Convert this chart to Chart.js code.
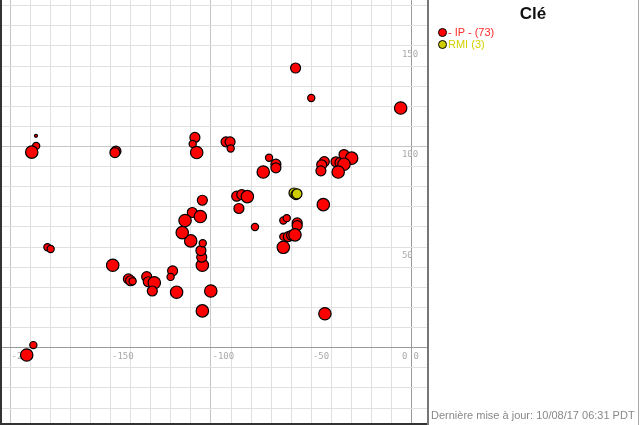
<!DOCTYPE html>
<html>
<head>
<meta charset="utf-8">
<script src="https://cdn.jsdelivr.net/npm/chart.js@4.4.0/dist/chart.umd.min.js"></script>
<style>
  html, body { margin: 0; padding: 0; background: #fff; overflow: hidden; }
  #wrap { position: relative; width: 640px; height: 425px; }
  #panel {
    position: absolute; left: 427px; top: 0; width: 212px; height: 425px;
    box-sizing: border-box; border-left: 2px solid #777; border-right: 1px solid #aaa;
    font-family: "Liberation Sans", Arial, sans-serif;
  }
  #title { position: absolute; left: 0; width: 208px; top: 4px; text-align: center; font-weight: bold; font-size: 17px; color: #111; }
  .item { position: absolute; left: 9px; font-size: 11px; line-height: 13px; white-space: nowrap; }
  .dot { display: inline-block; width: 7px; height: 7px; border-radius: 50%; border: 1px solid #000; vertical-align: -1px; margin-right: 1px; }
  #updated { position: absolute; left: 2px; top: 409px; font-size: 11px; line-height: 13px; color: #888; white-space: nowrap; }
</style>
</head>
<body>
<div id="wrap">
  <canvas id="chart" width="640" height="425"></canvas>
  <div id="panel">
    <div id="title">Clé</div>
    <div id="legend"></div>
    <div id="updated">Dernière mise à jour: 10/08/17 06:31 PDT</div>
  </div>
</div>
<script>
// series values
const ipX = [-187.1, -187.0, -189.2, -147.3, -147.8, -181.4, -179.8, -148.9, -188.4, -191.7,
  -141.1, -140.0, -139.0, -132.0, -131.2, -128.2, -129.2, -119.1, -120.1, -117.1,
  -104.3, -104.6, -105.0, -104.1, -110.1, -100.1, -104.3, -109.3, -105.3, -112.9,
  -114.3, -104.3, -108.0, -109.1, -107.1, -92.5, -90.5, -90.2, -71.1, -67.7,
  -67.7, -74.0, -87.2, -84.7, -81.9, -86.1, -78.1, -64.0, -62.3, -57.1,
  -57.1, -64.0, -61.5, -59.9, -58.2, -64.0, -43.6, -44.9, -45.3, -37.8,
  -35.8, -33.8, -30.0, -33.8, -36.7, -44.1, -43.3, -57.9, -50.1, -5.6];
const ipY = [105.3, 100.3, 97.2, 97.7, 97.0, 49.9, 49.1, 41.0, 1.3, -3.6,
  34.2, 33.3, 33.0, 35.3, 32.8, 32.3, 28.2, 38.2, 35.2, 27.6,
  41.0, 45.0, 48.3, 51.9, 53.1, 28.2, 18.3, 67.2, 65.2, 63.2,
  57.2, 73.3, 104.5, 101.3, 97.0, 102.3, 102.3, 99.0, 94.4, 91.2,
  89.4, 87.3, 75.3, 76.1, 75.1, 69.2, 60.0, 63.2, 64.4, 62.0,
  60.7, 55.2, 55.2, 55.9, 56.1, 49.9, 92.5, 90.9, 87.9, 92.4,
  92.0, 96.0, 94.2, 91.2, 87.3, 71.1, 16.9, 139.0, 124.1, 119.1];
// size class of each point (1 = tiny ... 4 = large)
const ipSize = [1, 2, 4, 3, 3, 2, 2, 4, 2, 4,
  3, 3, 2, 3, 3, 4, 3, 3, 2, 4,
  4, 3, 3, 2, 4, 4, 4, 3, 4, 4,
  4, 3, 3, 2, 4, 3, 3, 2, 2, 3,
  3, 4, 3, 3, 4, 3, 2, 2, 2, 3,
  3, 2, 3, 3, 4, 4, 3, 3, 3, 3,
  3, 3, 4, 4, 4, 4, 4, 3, 2, 4];
const rmiX = [-58.7, -57.7, -57.2];
const rmiY = [76.9, 76.1, 76.5];
const rmiSize = [3, 3, 3];

const seriesNames = ["- IP -", "RMI"];
const seriesCounts = [73, 3];
const xTickLabels = [-200, -150, -100, -50, 0];
const yTickLabels = [0, 50, 100, 150];

const radiusFor = { 1: 1.5, 2: 3.6, 3: 5, 4: 6.2 };
const colors = ["#ff0000", "#cfcc00"];
const textColors = ["#ff2b2b", "#d2d200"];

const toPoints = (xs, ys, ss) => xs.map((x, i) => ({ x: x, y: ys[i], s: ss[i] }));

// legend panel
const legend = document.getElementById("legend");
seriesNames.forEach((name, i) => {
  const el = document.createElement("div");
  el.className = "item";
  el.style.top = (26 + i * 12) + "px";
  el.style.color = textColors[i];
  el.innerHTML = '<span class="dot" style="background:' + colors[i] + '"></span>' +
    name + " (" + seriesCounts[i] + ")";
  legend.appendChild(el);
});

// axis labels drawn at the zero lines, frame around plot
const axisLabels = {
  id: "axisLabels",
  beforeDatasetsDraw(chart) {
    const { ctx, scales } = chart;
    const x0 = scales.x.getPixelForValue(0);
    const y0 = scales.y.getPixelForValue(0);
    ctx.save();
    ctx.font = "9px 'DejaVu Sans Mono', monospace";
    ctx.fillStyle = "#aaa";
    ctx.textAlign = "left";
    ctx.textBaseline = "top";
    xTickLabels.forEach((v) => ctx.fillText(String(v), scales.x.getPixelForValue(v) + 1.5, y0 + 4));
    yTickLabels.forEach((v) => ctx.fillText(String(v), x0 - 10, scales.y.getPixelForValue(v) + 4));
    ctx.restore();
  },
  afterDraw(chart) {
    const { ctx, chartArea } = chart;
    ctx.save();
    ctx.fillStyle = "#333";
    ctx.fillRect(0, 0, 2, 425);
    ctx.fillRect(0, chartArea.bottom, chartArea.right, 2);
    ctx.restore();
  }
};

const gridColor = (c) => {
  const v = c.tick.value;
  if (v === 0) return "#9a9a9a";
  if (v % 100 === 0) return "#c6c6c6";
  return "#e0e0e0";
};

new Chart(document.getElementById("chart"), {
  type: "scatter",
  data: {
    datasets: [
      { label: seriesNames[0], data: toPoints(ipX, ipY, ipSize), backgroundColor: colors[0] },
      { label: seriesNames[1], data: toPoints(rmiX, rmiY, rmiSize), backgroundColor: colors[1] }
    ]
  },
  options: {
    responsive: false,
    animation: false,
    layout: { autoPadding: false, padding: { left: 2, right: 213, top: 0, bottom: 2 } },
    elements: {
      point: {
        radius: (c) => radiusFor[c.raw ? c.raw.s : 3],
        borderColor: "#000",
        borderWidth: 1.2,
        hoverRadius: 6
      }
    },
    scales: {
      x: {
        type: "linear", min: -204, max: 7.5,
        ticks: { display: false, stepSize: 10, includeBounds: false },
        grid: { color: gridColor, drawTicks: false, lineWidth: 1 },
        border: { display: false }
      },
      y: {
        type: "linear", min: -37.4, max: 172.8,
        ticks: { display: false, stepSize: 10, includeBounds: false },
        grid: { color: gridColor, drawTicks: false, lineWidth: 1 },
        border: { display: false }
      }
    },
    plugins: { legend: { display: false }, tooltip: { enabled: false } }
  },
  plugins: [axisLabels]
});
</script>
</body>
</html>
